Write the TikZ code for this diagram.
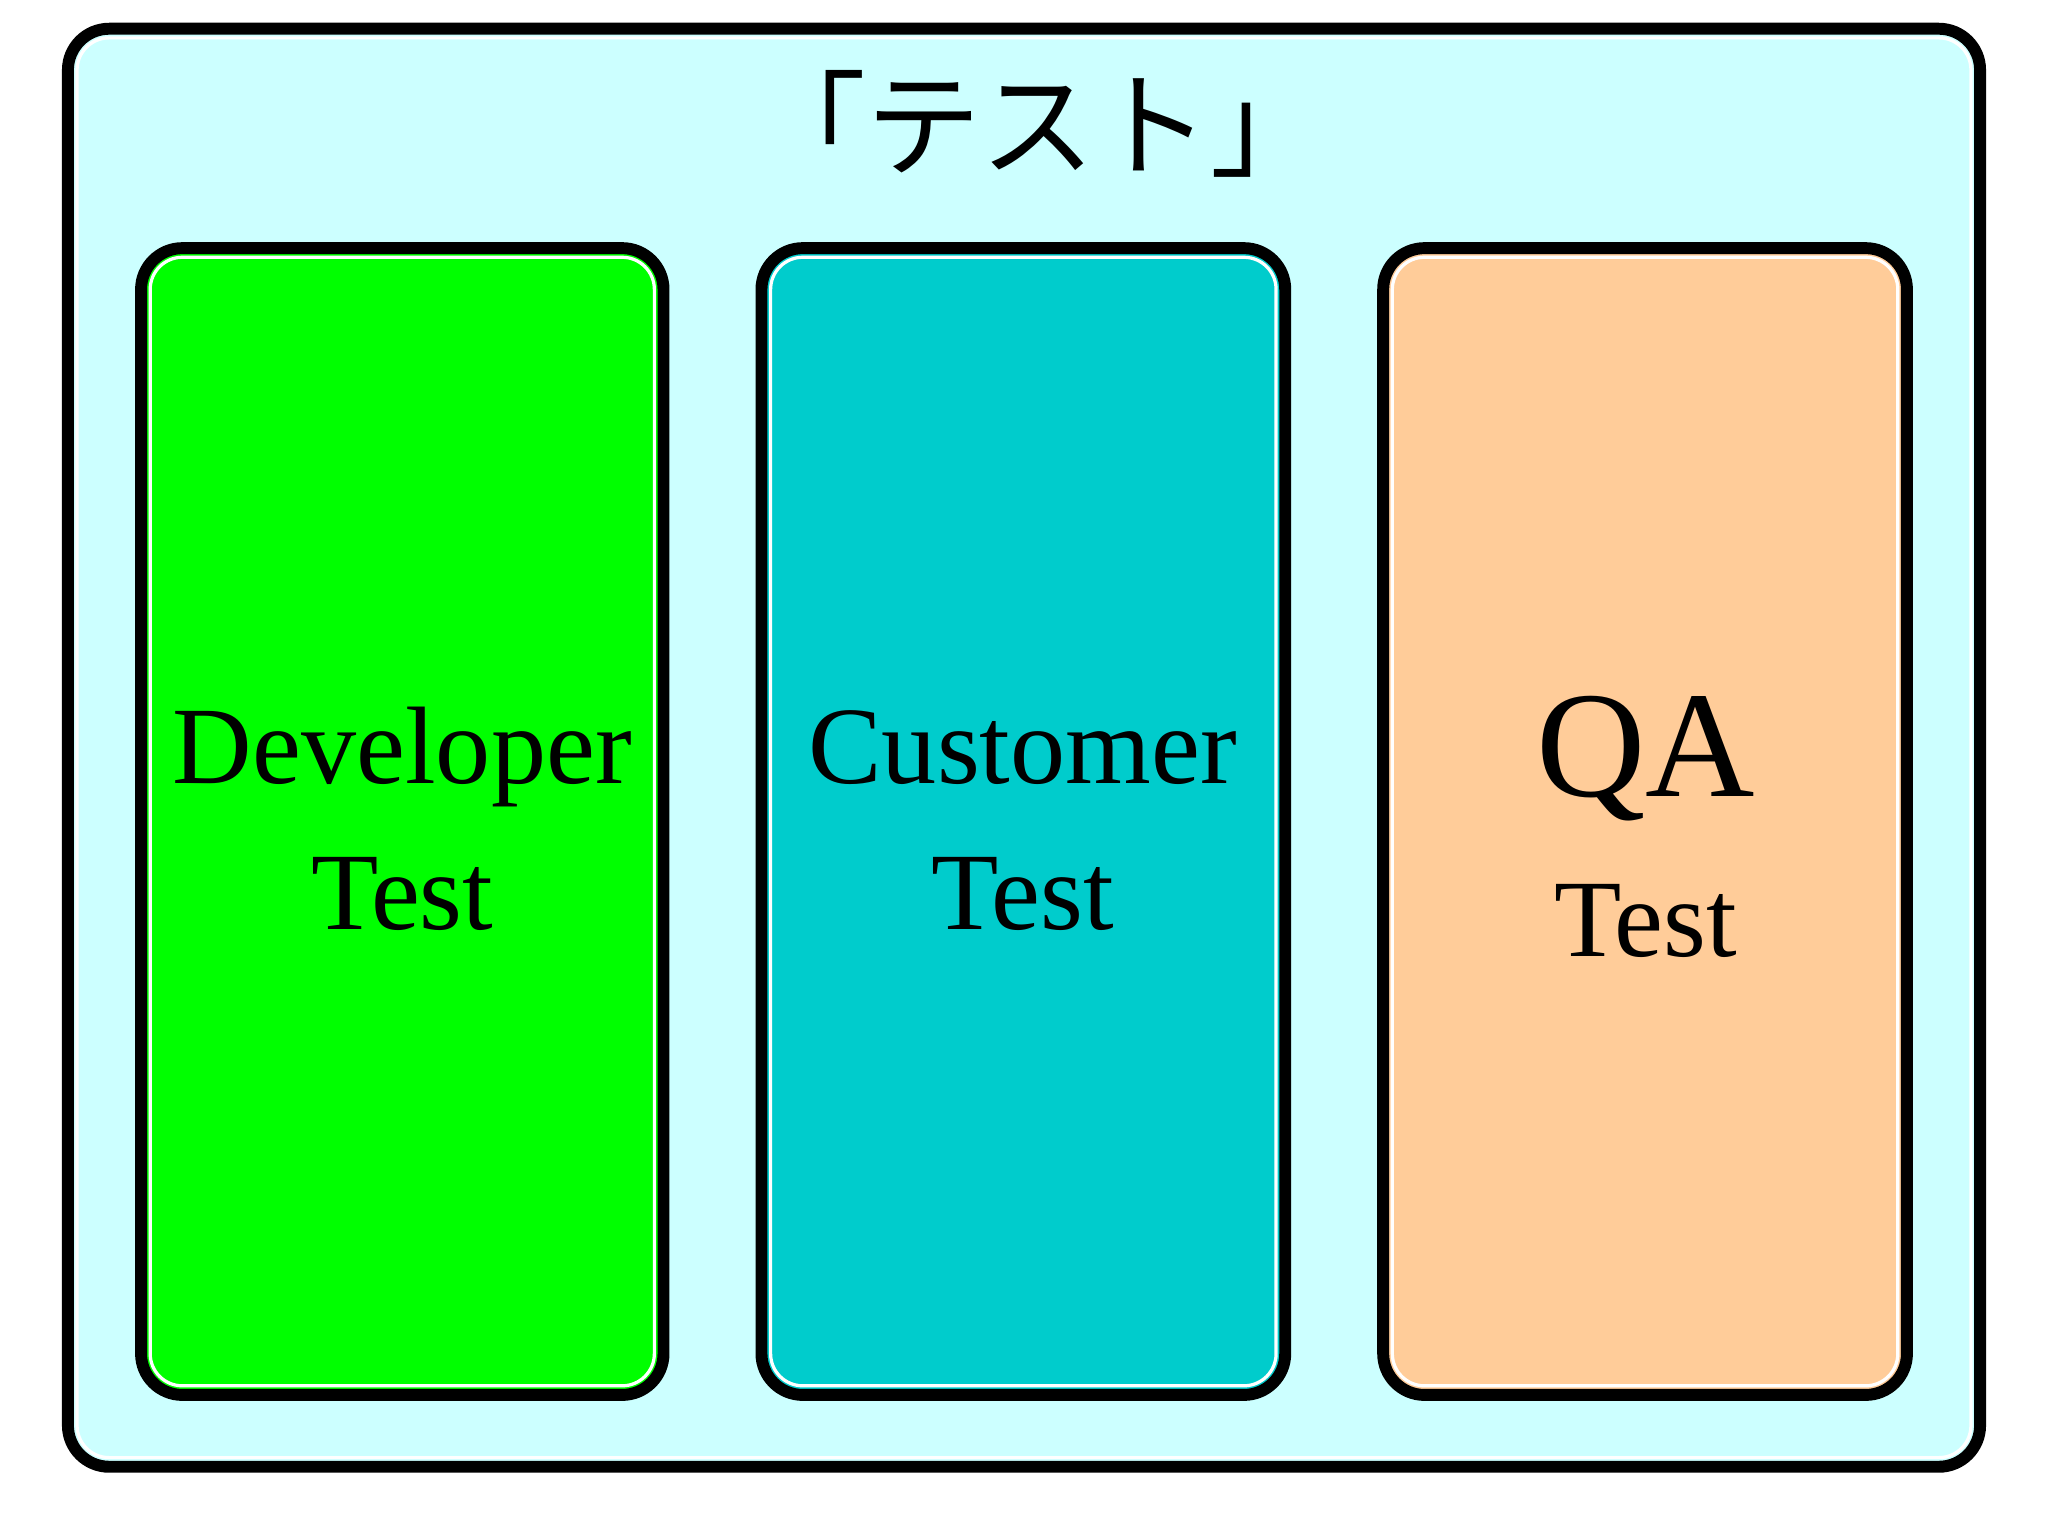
\documentclass[tikz,border=0pt]{standalone}
\usepackage{fontspec}
\setmainfont{Liberation Serif}
\newfontfamily\cjk{Noto Sans CJK JP}
\begin{document}
\begin{tikzpicture}[x=0.1mm,y=-0.1mm,
  panel/.style={draw=black,line width=2.6pt,rounded corners=9pt},
  inner/.style={draw=white,line width=0.7pt,rounded corners=7pt},
  lbl/.style={font=\fontsize{24}{32}\selectfont,align=center,text=black}]
\useasboundingbox (0,0) rectangle (1568,1175);
\fill[white] (0,0) rectangle (1568,1175);
% outer
\path[panel,fill={rgb,255:red,204;green,255;blue,255}] (52,22) rectangle (1516,1123);
\draw[inner] (59,29) rectangle (1509,1116);
\node[font=\cjk\fontsize{25}{30}\selectfont] (title) at (795,95) {「テスト」};
% panels
\path[panel,fill={rgb,255:red,0;green,255;blue,0}] (108,190) rectangle (508,1068);
\draw[inner] (115,197) rectangle (501,1061);
\path[panel,fill={rgb,255:red,0;green,204;blue,204}] (583,190) rectangle (984,1068);
\draw[inner] (590,197) rectangle (977,1061);
\path[panel,fill={rgb,255:red,255;green,204;blue,153}] (1059,190) rectangle (1460,1068);
\draw[inner] (1066,197) rectangle (1453,1061);
\node[lbl,anchor=base] (dev) at (308,600) {Developer};
\node[lbl,anchor=base] (devt) at (308,712) {Test};
\node[lbl,anchor=base] (cus) at (783,600) {Customer};
\node[lbl,anchor=base] (cust) at (783,712) {Test};
\node[lbl,anchor=base,font=\fontsize{33}{36}\selectfont] (qa) at (1260,610) {QA};
\node[lbl,anchor=base] (qat) at (1260,732) {Test};
\end{tikzpicture}
\end{document}
